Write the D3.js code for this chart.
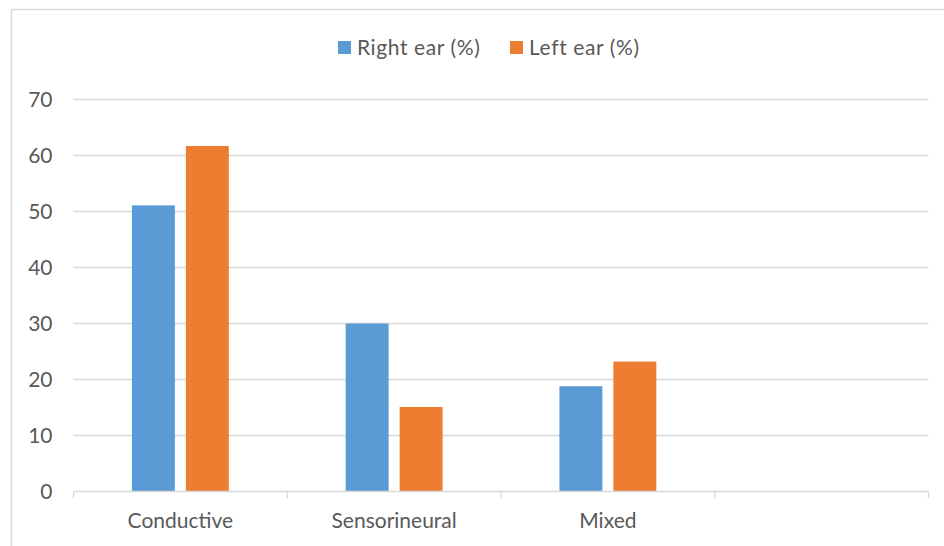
<!DOCTYPE html>
<html>
<head>
<meta charset="utf-8">
<script src="https://cdn.jsdelivr.net/npm/d3@7"></script>
<style>
  body { margin: 0; background: #fff; }
  text { font-family: Lato, "Open Sans", sans-serif; fill: #595959; }
</style>
</head>
<body>
<svg id="chart" width="944" height="546"></svg>
<script>
// categories (last slot is empty in the original)
const categories = ['Conductive', 'Sensorineural', 'Mixed', ''];
const seriesNames = ['Right ear (%)', 'Left ear (%)'];
const rightEar = [51.1, 30.0, 18.8, null];
const leftEar = [61.7, 15.1, 23.2, null];
const yTicks = [0, 10, 20, 30, 40, 50, 60, 70];

const COLORS = ['#5B9BD5', '#ED7D31'];

const svg = d3.select('#chart');

// chart frame
svg.append('rect')
  .attr('x', 11.5).attr('y', 9.5)
  .attr('width', 944).attr('height', 546)
  .attr('fill', '#fff')
  .attr('stroke', '#D9D9D9')
  .attr('stroke-width', 1.5);

const margin = { left: 73.5, right: 928.5, top: 99.5, bottom: 491.5 };

const x0 = d3.scaleBand()
  .domain(categories.map((c, i) => i))
  .range([margin.left, margin.right]);

const x1 = d3.scaleBand()
  .domain([0, 1])
  .range([0, x0.bandwidth()])
  .paddingInner(0.2037)
  .paddingOuter(1.083);

const y = d3.scaleLinear()
  .domain([0, 70])
  .range([margin.bottom, margin.top]);

// gridlines
svg.append('g')
  .selectAll('line')
  .data(yTicks.slice(1))
  .enter()
  .append('line')
  .attr('x1', margin.left)
  .attr('x2', margin.right)
  .attr('y1', d => y(d))
  .attr('y2', d => y(d))
  .attr('stroke', '#D9D9D9')
  .attr('stroke-width', 1.3);

// y labels
const yAxis = d3.axisLeft(y).tickValues(yTicks).tickSize(0).tickPadding(21);
const yg = svg.append('g')
  .attr('transform', `translate(${margin.left},0)`)
  .call(yAxis);
yg.select('.domain').remove();
yg.selectAll('text')
  .style('font-size', '21px')
  .attr('fill', '#595959');

// bars
const series = [rightEar, leftEar];
series.forEach((vals, s) => {
  svg.append('g')
    .selectAll('rect')
    .data(vals.map((v, i) => ({ v, i })).filter(d => d.v != null))
    .enter()
    .append('rect')
    .attr('x', d => x0(d.i) + x1(s))
    .attr('width', x1.bandwidth())
    .attr('y', d => y(d.v))
    .attr('height', d => y(0) - y(d.v))
    .attr('fill', COLORS[s]);
});

// x axis line and ticks
const xg = svg.append('g');
xg.append('line')
  .attr('x1', margin.left).attr('x2', margin.right)
  .attr('y1', y(0)).attr('y2', y(0))
  .attr('stroke', '#D9D9D9')
  .attr('stroke-width', 1.3);
xg.selectAll('.tick')
  .data(d3.range(categories.length + 1))
  .enter()
  .append('line')
  .attr('x1', i => i < categories.length ? x0(i) : margin.right)
  .attr('x2', i => i < categories.length ? x0(i) : margin.right)
  .attr('y1', y(0))
  .attr('y2', y(0) + 7)
  .attr('stroke', '#D9D9D9')
  .attr('stroke-width', 1.3);
xg.selectAll('.cat')
  .data(categories)
  .enter()
  .append('text')
  .attr('x', (d, i) => x0(i) + x0.bandwidth() / 2)
  .attr('y', 528)
  .attr('text-anchor', 'middle')
  .style('font-size', '21px')
  .text(d => d);

// legend
const legendItems = [
  { name: seriesNames[0], color: COLORS[0], x: 338 },
  { name: seriesNames[1], color: COLORS[1], x: 510 }
];
const legend = svg.append('g').attr('class', 'legend');
legendItems.forEach(d => {
  legend.append('rect')
    .attr('x', d.x).attr('y', 41)
    .attr('width', 13).attr('height', 13)
    .attr('fill', d.color);
  legend.append('text')
    .attr('x', d.x + 19)
    .attr('y', 55)
    .style('font-size', '21px')
    .style('letter-spacing', '0.6px')
    .text(d.name);
});
</script>
</body>
</html>
